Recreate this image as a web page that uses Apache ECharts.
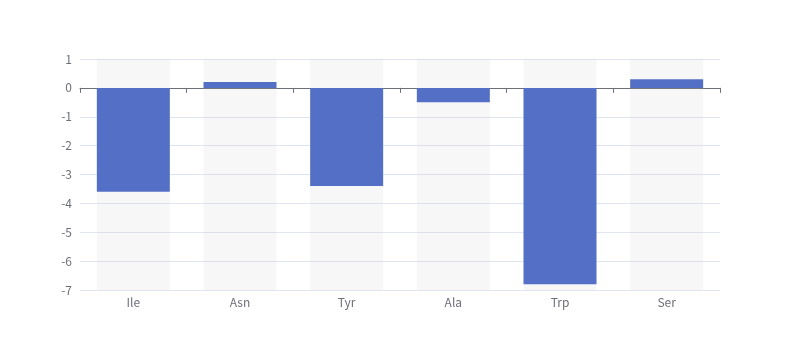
<!DOCTYPE html>
<html><head><meta charset="utf-8">
<script src="https://cdn.jsdelivr.net/npm/echarts@6/dist/echarts.min.js"></script>
<style>html,body{margin:0;padding:0;background:#fff}#c{width:800px;height:360px}</style>
</head><body><div id="c"></div>
<script>
var categories = ['Ile', 'Asn', 'Tyr', 'Ala', 'Trp', 'Ser'];
var values = [-3.6, 0.2, -3.4, -0.5, -6.8, 0.3];
var yMin = -7, yMax = 1, yStep = 1;

var chart = echarts.init(document.getElementById('c'), null, {renderer: 'canvas'});
chart.setOption({
  animation: false,
  textStyle: {fontFamily: 'Noto Sans CJK SC'},
  grid: {left: 80, right: 80, top: 59, bottom: 70},
  xAxis: [
    {type: 'category', data: categories, position: 'bottom',
     axisLine: {show: false, onZero: false}, axisTick: {show: false},
     axisLabel: {color: '#6E7079', fontSize: 12, margin: 6, fontFamily: 'Noto Sans CJK SC'}},
    {type: 'category', data: categories, position: 'bottom',
     axisLine: {show: true, onZero: true, lineStyle: {color: '#6E7079'}},
     axisTick: {show: true}, axisLabel: {show: false}}
  ],
  yAxis: {type: 'value', min: yMin, max: yMax, interval: yStep,
    axisLabel: {color: '#6E7079', fontSize: 12, fontFamily: 'Noto Sans CJK SC'},
    splitLine: {lineStyle: {color: '#E0E6F1'}}},
  series: [{type: 'bar', data: values, barWidth: 73, xAxisIndex: 0,
    itemStyle: {color: '#5470c6'},
    showBackground: true,
    backgroundStyle: {color: 'rgba(180,180,180,0.11)'}}]
});
</script></body></html>
